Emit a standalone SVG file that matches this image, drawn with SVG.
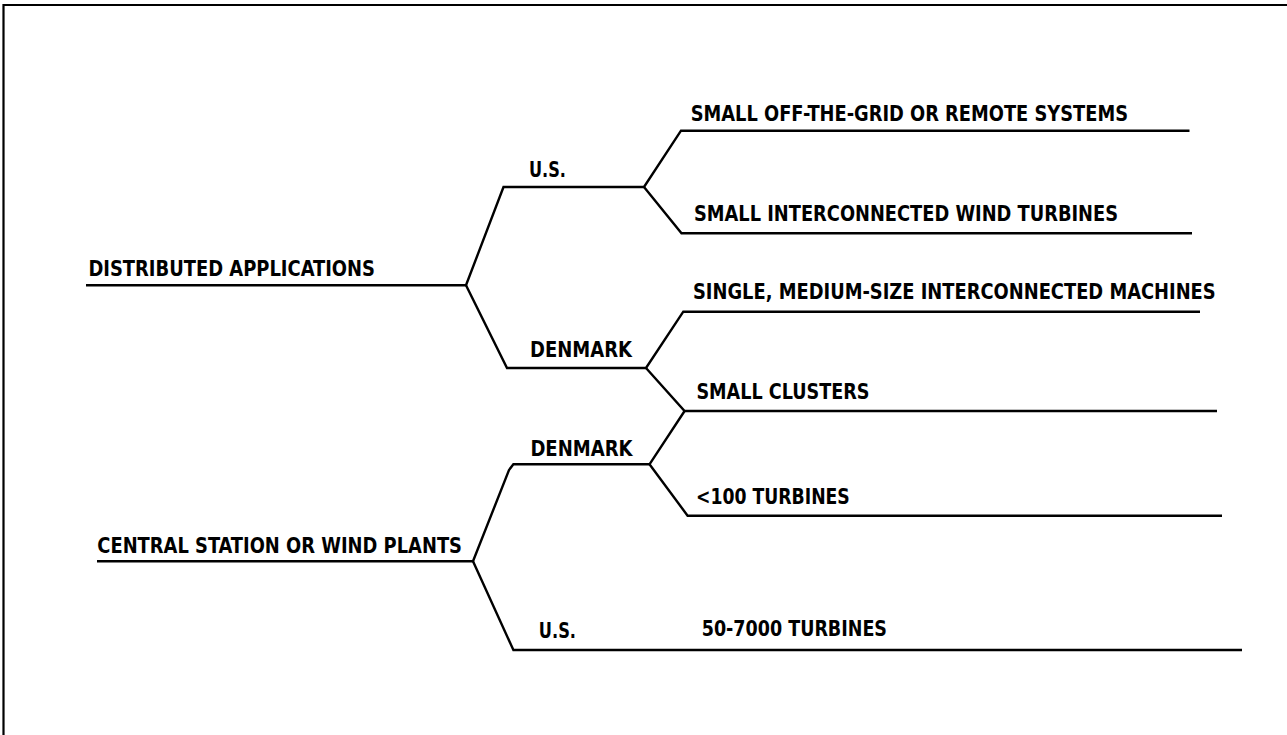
<svg xmlns="http://www.w3.org/2000/svg" width="1287" height="735" viewBox="0 0 1287 735">
<style>
.ln{fill:none;stroke:#000;stroke-width:2.4;stroke-linejoin:miter;stroke-linecap:butt}
.fr{fill:none;stroke:#000;stroke-width:2.2}
text{font-family:"DejaVu Sans Condensed","Liberation Sans Narrow","Liberation Sans",sans-serif;font-weight:bold;font-size:21.5px;fill:#000}
</style>
<rect width="1287" height="735" fill="#fff"/>
<path class="fr" d="M3.5,740 V5 H1290"/>
<g id="connectors">
<path class="ln" d="M86,285.3 H466 L503.5,187 H644 L681,130.7 H1189.5"/>
<path class="ln" d="M644,187 L681.5,233.3 H1192"/>
<path class="ln" d="M466,285.3 L507,368 H646 L683.3,311.7 H1200"/>
<path class="ln" d="M646,368 L684.6,411 H1217"/>
<path class="ln" d="M684.6,411 L649.5,464.3 H513.4 L509,470 L473,561.3 H97"/>
<path class="ln" d="M649.5,464.3 L687.6,515.7 H1222"/>
<path class="ln" d="M473,561.3 L513.4,650 H1242"/>
</g>
<g id="n-distributed"><text x="88.4" y="275.7" textLength="286.6" lengthAdjust="spacingAndGlyphs">DISTRIBUTED APPLICATIONS</text></g>
<g id="n-central"><text x="97.3" y="553" textLength="364.7" lengthAdjust="spacingAndGlyphs">CENTRAL STATION OR WIND PLANTS</text></g>
<g id="n-us1"><text x="529" y="177" textLength="37" lengthAdjust="spacingAndGlyphs">U.S.</text></g>
<g id="n-denmark1"><text x="530" y="357" textLength="102" lengthAdjust="spacingAndGlyphs">DENMARK</text></g>
<g id="n-denmark2"><text x="530.4" y="456" textLength="102.2" lengthAdjust="spacingAndGlyphs">DENMARK</text></g>
<g id="n-us2"><text x="538.8" y="637.7" textLength="37.2" lengthAdjust="spacingAndGlyphs">U.S.</text></g>
<g id="n-offgrid"><text x="690.7" y="121" textLength="437.3" lengthAdjust="spacingAndGlyphs">SMALL OFF-THE-GRID OR REMOTE SYSTEMS</text></g>
<g id="n-smallinter"><text x="694" y="221" textLength="424" lengthAdjust="spacingAndGlyphs">SMALL INTERCONNECTED WIND TURBINES</text></g>
<g id="n-single"><text x="693" y="299.3" textLength="522.7" lengthAdjust="spacingAndGlyphs">SINGLE, MEDIUM-SIZE INTERCONNECTED MACHINES</text></g>
<g id="n-clusters"><text x="696.4" y="399" textLength="173.1" lengthAdjust="spacingAndGlyphs">SMALL CLUSTERS</text></g>
<g id="n-lt100"><text x="696" y="504" textLength="153.8" lengthAdjust="spacingAndGlyphs">&lt;100 TURBINES</text></g>
<g id="n-50-7000"><text x="701.7" y="635.7" textLength="185.3" lengthAdjust="spacingAndGlyphs">50-7000 TURBINES</text></g>
</svg>
